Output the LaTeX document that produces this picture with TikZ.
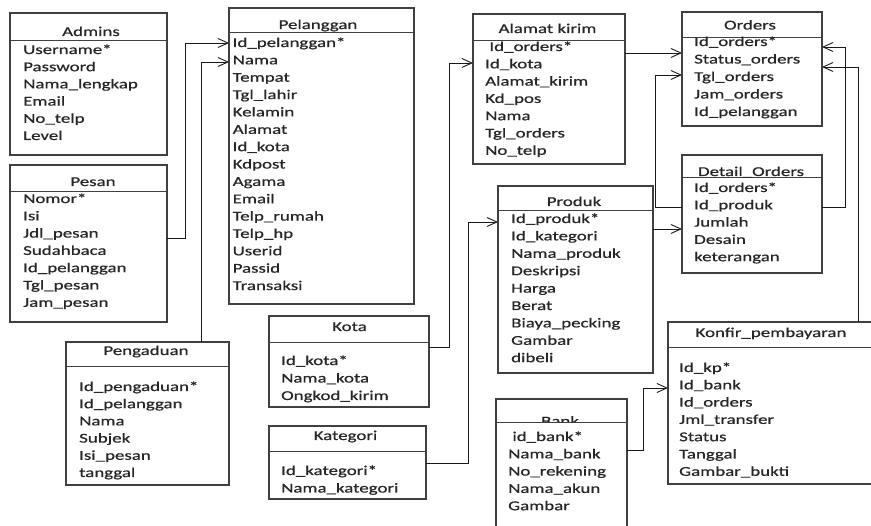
\documentclass[tikz,border=0pt]{standalone}
\usepackage{fontspec}
\setmainfont[FakeStretch=1.4,FakeBold=0.6]{Carlito}
\usetikzlibrary{arrows.meta}
\newcommand\erfont{\fontsize{13.5}{16}\selectfont}
\tikzset{
  ebox/.style={draw=black!75, line width=1.1pt, fill=white, anchor=north west, inner sep=0pt, outer sep=0pt},
  etitle/.style={anchor=base, font=\erfont, text=black!85, inner sep=0pt},
  erow/.style={anchor=base west, font=\erfont, text=black!85, inner sep=0pt},
  hline/.style={draw=black!75, line width=1pt},
  conn/.style={draw=black!90, line width=0.9pt},
  arr/.style={conn, -{Straight Barb[length=10pt,width=9pt]}}
}
\newcommand\erows[5]{\foreach \txt [count=\i] in {#5} \node[erow] (#1-\i) at (#2,{#3+(\i-1)*#4}) {\txt};}
\begin{document}
\begin{tikzpicture}[x=1pt,y=-1pt]
\useasboundingbox (0,0) rectangle (871,526);
\clip (0,0) rectangle (871,526);
% ---- boxes
\node[ebox, minimum width=157pt, minimum height=142pt] (adm) at (10,13) {};
\node[ebox, minimum width=157pt, minimum height=157pt] (pes) at (10,165) {};
\node[ebox, minimum width=185pt, minimum height=296pt] (pel) at (229,8) {};
\node[ebox, minimum width=152pt, minimum height=150pt] (alm) at (473,14) {};
\node[ebox, minimum width=140pt, minimum height=114pt] (ord) at (682,12) {};
\node[ebox, minimum width=140pt, minimum height=118pt] (det) at (682,155) {};
\node[ebox, minimum width=155pt, minimum height=187pt] (pro) at (498,186) {};
\node[ebox, minimum width=160pt, minimum height=91pt] (kot) at (269,316) {};
\node[ebox, minimum width=157pt, minimum height=73pt] (kat) at (269,426) {};
\node[ebox, minimum width=163pt, minimum height=143pt] (pen) at (66,342) {};
\node[ebox, minimum width=131pt, minimum height=140pt] (ban) at (496,399) {};
\node[ebox, minimum width=210pt, minimum height=162pt] (kon) at (668,322) {};
% ---- header lines
\draw[hline] (adm.west |- 0,41) -- (adm.east |- 0,41);
\draw[hline] (pes.west |- 0,192) -- (pes.east |- 0,192);
\draw[hline] (pel.west |- 0,33) -- (pel.east |- 0,33);
\draw[hline] (alm.west |- 0,41) -- (alm.east |- 0,41);
\draw[hline] (ord.west |- 0,37.5) -- (ord.east |- 0,37.5);
\draw[hline] (det.west |- 0,178) -- (det.east |- 0,178);
\draw[hline] (pro.west |- 0,211) -- (pro.east |- 0,211);
\draw[hline] (kot.west |- 0,343) -- (kot.east |- 0,343);
\draw[hline] (kat.west |- 0,452) -- (kat.east |- 0,452);
\draw[hline] (pen.west |- 0,367) -- (pen.east |- 0,367);
\draw[hline] (ban.west |- 0,422.5) -- (ban.east |- 0,422.5);
\draw[hline] (kon.west |- 0,348) -- (kon.east |- 0,348);
% ---- titles
\node[etitle] (adm-t) at (91,36) {Admins};
\node[etitle] (pes-t) at (93,186) {Pesan};
\node[etitle] (pel-t) at (318,29) {Pelanggan};
\node[etitle] (alm-t) at (547.5,33) {Alamat kirim};
\node[etitle] (ord-t) at (750,29.5) {Orders};
\node[etitle] (det-t) at (751,176) {Detail\_Orders};
\node[etitle] (pro-t) at (574,206) {Produk};
\node[etitle] (kot-t) at (349.5,331) {Kota};
\node[etitle] (kat-t) at (345.5,440) {Kategori};
\node[etitle] (pen-t) at (146,355) {Pengaduan};
\begin{scope}
  \clip (497,400) rectangle (626,421.8);
  \node[etitle] (ban-t) at (560,425.5) {Bank};
\end{scope}
\node[etitle] (kon-t) at (771,337) {Konfir\_pembayaran};
% ---- rows
\erows{adm}{23}{54}{17.2}{Username*, Password, Nama\_lengkap, Email, No\_telp, Level}
\erows{pes}{23}{203}{17.3}{Nomor*, Isi, Jdl\_pesan, Sudahbaca, Id\_pelanggan, Tgl\_pesan, Jam\_pesan}
\erows{pel}{232.5}{47}{17.36}{Id\_pelanggan*, Nama, Tempat, Tgl\_lahir, Kelamin, Alamat, Id\_kota, Kdpost, Agama, Email, Telp\_rumah, Telp\_hp, Userid, Passid, Transaksi}
\erows{alm}{485}{51}{17.3}{\ Id\_orders*, Id\_kota, Alamat\_kirim, Kd\_pos, Nama, Tgl\_orders, No\_telp}
\erows{ord}{694}{46}{17.5}{Id\_orders*, Status\_orders, Tgl\_orders, Jam\_orders, Id\_pelanggan}
\erows{det}{694}{192}{17.3}{Id\_orders*, Id\_produk, Jumlah, Desain, keterangan}
\erows{pro}{511}{223}{17.4}{Id\_produk*, Id\_kategori, Nama\_produk, Deskripsi, Harga, Berat, Biaya\_pecking, Gambar, dibeli}
\erows{kot}{281}{365}{17.5}{Id\_kota*, Nama\_kota, Ongkod\_kirim}
\erows{kat}{281}{475}{17.5}{Id\_kategori*, Nama\_kategori}
\erows{pen}{79}{391}{17.2}{Id\_pengaduan*, Id\_pelanggan, Nama, Subjek, Isi\_pesan, tanggal}
\erows{ban}{508}{441}{17.3}{\ id\_bank*, Nama\_bank, No\_rekening, Nama\_akun, Gambar}
\erows{kon}{679}{372}{17.3}{Id\_kp*, Id\_bank, Id\_orders, Jml\_transfer, Status, Tanggal, Gambar\_bukti}
% ---- connectors
\draw[arr] (pes.east |- 0,238) -- (185,238) |- (pel.west |- 0,43);
\draw[arr] (pen.north -| 201,0) -- (201,62) -- (pel.west |- 0,62);
\draw[arr] (kot.east |- 0,347) -- (449,347) |- (alm.west |- 0,63);
\draw[arr] (kat.east |- 0,463) -- (468,463) |- (pro.west |- 0,222);
\draw[arr] (alm.east |- 0,53) -- (ord.west |- 0,53);
\draw[arr] (det.west |- 0,207) -- (655,207) |- (ord.west |- 0,75);
\draw[arr] (pro.east |- 0,229) -- (det.west |- 0,229);
\draw[arr] (det.east |- 0,207) -- (845,207) |- (ord.east |- 0,47);
\draw[arr] (kon.north -| 858,0) -- (858,67) -- (ord.east |- 0,67);
\draw[arr] (ban.east |- 0,450) -- (643,450) |- (kon.west |- 0,388);
\end{tikzpicture}
\end{document}
